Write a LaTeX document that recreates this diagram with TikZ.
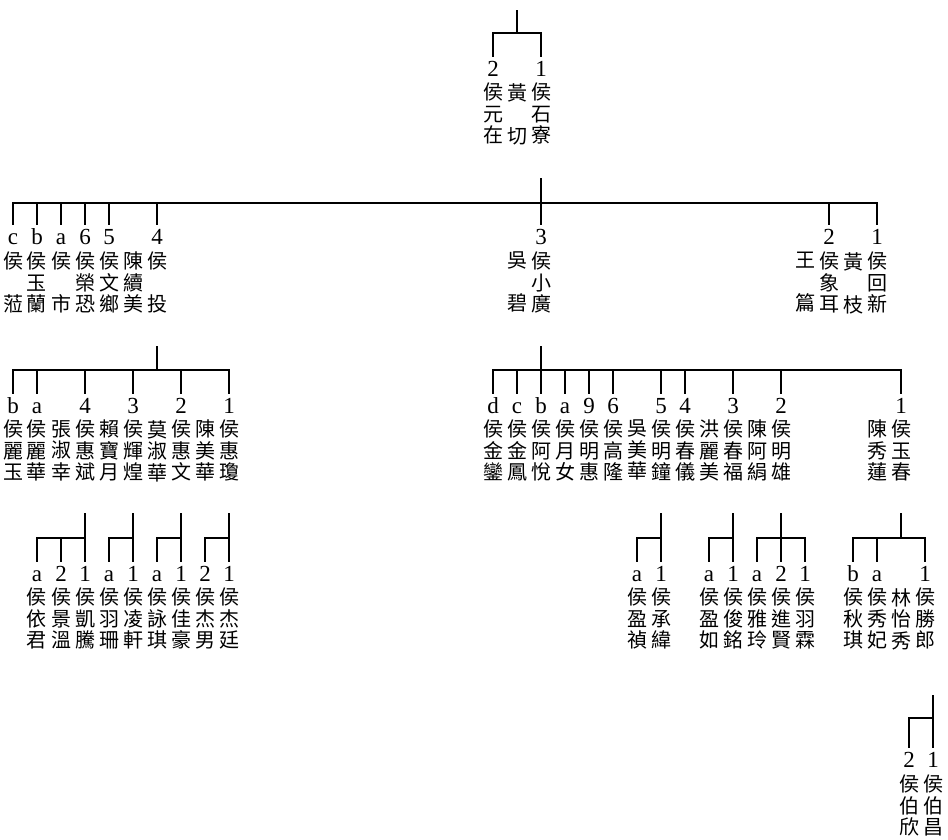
\documentclass[tikz,border=0pt]{standalone}
\usepackage{fontspec}
\newfontfamily\cjk{Noto Sans CJK TC}
\newfontfamily\digit{Liberation Serif}
\begin{document}
\begin{tikzpicture}[
x=1pt, y=-1pt,
  who/.style = {font={\cjk\fontsize{20}{21.5}\selectfont\lineskiplimit=-30pt},% name columns
                align=center, anchor=north, inner sep=0pt},
  num/.style = {font={\digit\fontsize{23}{26}\selectfont},% birth order above a name
                anchor=base, inner sep=0pt, outer sep=4pt,
                text height=15.5pt, text depth=0pt},
  kin/.style = {line width=1.6pt},
                        ]
\useasboundingbox (0,0) rectangle (948,839);
% first row
\foreach \k/\nm in {20/{侯\\元\\在},21/{黃\\{}\\切},22/{侯\\石\\寮}}
    \node[who] (A\k) at ({13+24*\k},83) {\nm};
\foreach \k/\d in {20/2,22/1}
    \node[num] (nA\k) at ({13+24*\k},76) {\d};
\coordinate (sA) at (517,10);
\draw[kin] (sA) -- ++(0,23) coordinate (bA);
\draw[kin] (nA20.north) |- (bA) -| (nA22.north);
% second row
\foreach \k/\nm in {0/{侯\\{}\\蒞},1/{侯\\玉\\蘭},2/{侯\\{}\\市},3/{侯\\榮\\恐},
    4/{侯\\文\\鄉},5/{陳\\續\\美},6/{侯\\{}\\投},21/{吳\\{}\\碧},22/{侯\\小\\廣},
    33/{王\\{}\\篇},34/{侯\\象\\耳},35/{黃\\{}\\枝},36/{侯\\回\\新}}
    \node[who] (B\k) at ({13+24*\k},252) {\nm};
\foreach \k/\d in {0/c,1/b,2/a,3/6,4/5,6/4,22/3,34/2,36/1}
    \node[num] (nB\k) at ({13+24*\k},244) {\d};
\coordinate (sB) at (541,178);
\draw[kin] (sB) -- ++(0,25) coordinate (bB);
\draw[kin] (nB0.north) |- (bB) -| (nB36.north);
\foreach \k in {1,2,3,4,6,22,34}
    \draw[kin] (nB\k.north) -- (nB\k.north |- bB);
% third row
\foreach \k/\nm in {0/{侯\\麗\\玉},1/{侯\\麗\\華},2/{張\\淑\\幸},3/{侯\\惠\\斌},
    4/{賴\\寶\\月},5/{侯\\輝\\煌},6/{莫\\淑\\華},7/{侯\\惠\\文},8/{陳\\美\\華},
    9/{侯\\惠\\瓊},20/{侯\\金\\鑾},21/{侯\\金\\鳳},22/{侯\\阿\\悅},23/{侯\\月\\女},
    24/{侯\\明\\惠},25/{侯\\高\\隆},26/{吳\\美\\華},27/{侯\\明\\鐘},28/{侯\\春\\儀},
    29/{洪\\麗\\美},30/{侯\\春\\福},31/{陳\\阿\\絹},32/{侯\\明\\雄},
    36/{陳\\秀\\蓮},37/{侯\\玉\\春}}
    \node[who] (C\k) at ({13+24*\k},420) {\nm};
\foreach \k/\d in {0/b,1/a,3/4,5/3,7/2,9/1,20/d,21/c,22/b,23/a,24/9,25/6,
    27/5,28/4,30/3,32/2,37/1}
    \node[num] (nC\k) at ({13+24*\k},413) {\d};
\coordinate (sC6) at (157,346);
\draw[kin] (sC6) -- ++(0,24) coordinate (bC6);
\draw[kin] (nC0.north) |- (bC6) -| (nC9.north);
\foreach \k in {1,3,5,7}
    \draw[kin] (nC\k.north) -- (nC\k.north |- bC6);
\coordinate (sC22) at (541,346);
\draw[kin] (sC22) -- ++(0,24) coordinate (bC22);
\draw[kin] (nC20.north) |- (bC22) -| (nC37.north);
\foreach \k in {21,22,23,24,25,27,28,30,32}
    \draw[kin] (nC\k.north) -- (nC\k.north |- bC22);
% fourth row
\foreach \k/\nm in {1/{侯\\依\\君},2/{侯\\景\\溫},3/{侯\\凱\\騰},4/{侯\\羽\\珊},
    5/{侯\\凌\\軒},6/{侯\\詠\\琪},7/{侯\\佳\\豪},8/{侯\\杰\\男},9/{侯\\杰\\廷},
    26/{侯\\盈\\禎},27/{侯\\承\\緯},29/{侯\\盈\\如},30/{侯\\俊\\銘},
    31/{侯\\雅\\玲},32/{侯\\進\\賢},33/{侯\\羽\\霖},35/{侯\\秋\\琪},
    36/{侯\\秀\\妃},37/{林\\怡\\秀},38/{侯\\勝\\郎}}
    \node[who] (D\k) at ({13+24*\k},588) {\nm};
\foreach \k/\d in {1/a,2/2,3/1,4/a,5/1,6/a,7/1,8/2,9/1,26/a,27/1,29/a,30/1,
    31/a,32/2,33/1,35/b,36/a,38/1}
    \node[num] (nD\k) at ({13+24*\k},581) {\d};
\foreach \p/\l/\r in {3/1/3,5/4/5,7/6/7,9/8/9,27/26/27,30/29/30,32/31/33,37/35/38}{
    \coordinate (sD\p) at ({13+24*\p},513);
    \draw[kin] (sD\p) -- ++(0,25) coordinate (bD\p);
    \draw[kin] (nD\l.north) |- (bD\p) -| (nD\r.north);
}
\foreach \k/\p in {2/3,32/32,36/37}
    \draw[kin] (nD\k.north) -- (nD\k.north |- bD\p);
% fifth row
\node[who] (E1) at (909,775) {侯\\伯\\欣};
\node[who] (E2) at (933,775) {侯\\伯\\昌};
\node[num] (nE1) at (909,767) {2};
\node[num] (nE2) at (933,767) {1};
\coordinate (sE) at (933,695);
\draw[kin] (sE) -- ++(0,23) coordinate (bE);
\draw[kin] (nE1.north) |- (bE) -- (nE2.north);
\end{tikzpicture}
\end{document}
